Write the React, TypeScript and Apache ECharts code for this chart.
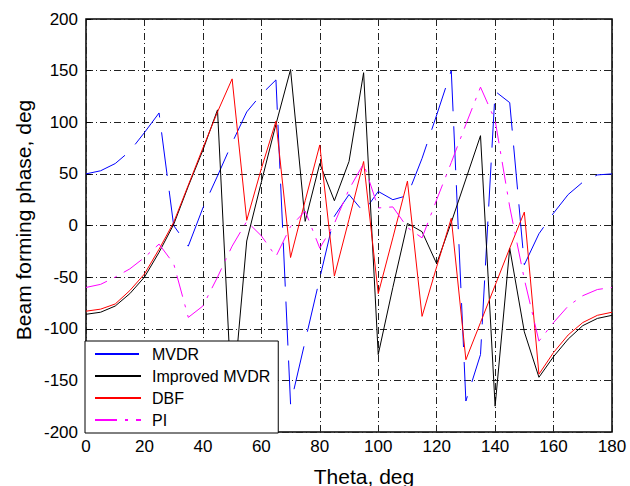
import React, { useEffect, useRef } from "react";
import * as echarts from "echarts";

const theta = [0, 5, 10, 15, 20, 25, 30, 35, 40, 45, 50, 55, 60, 65, 70, 75, 80, 85, 90, 95, 100, 105, 110, 115, 120, 125, 130, 135, 140, 145, 150, 155, 160, 165, 170, 175, 180];

const mvdr = [50, 53, 60, 72, 90, 109, 0, -20, 17, 48, 80, 110, 127, 141, -173, -112, -51, 9, 30, 13, 33, 25, 29, 65, 107, 150, -170, -125, 130, 119, -38, -8, 12, 30, 42, 49, 50];
const improvedMvdr = [-86, -84, -78, -66, -50, -26, 1, 38, 73, 112, -175, -15, 42, 98, 151, 4, 60, 24, 62, 148, -125, -60, 2, -6, -37, 3, 45, 87, -175, -22, -103, -147, -127, -110, -97, -90, -87];
const dbf = [-83, -81, -76, -63, -47, -23, 3, 39, 75, 110, 142, 5, 55, 101, -31, 24, 78, -49, 6, 62, -66, -12, 43, -88, -40, 7, -130, -94, -58, -22, 13, -144, -123, -106, -94, -87, -84];
const pi = [-60, -57, -50, -42, -31, -18, -37, -89, -78, -50, -20, 4, -10, -30, -1, 14, -22, 2, 35, 60, 17, 18, -2, -12, 25, 61, 98, 134, 102, 18, -52, -112, -94, -78, -68, -62, -60];

const seriesNames = ["MVDR", "Improved MVDR", "DBF", "PI"];
const xTitle = "Theta, deg";
const yTitle = "Beam forming phase, deg";

const FONT = "'Liberation Sans', Arial, Helvetica, sans-serif";

export default function App() {
  const ref = useRef<HTMLDivElement>(null);
  useEffect(() => {
    if (!ref.current) return;
    const chart = echarts.init(ref.current, undefined, { renderer: "svg" });
    const pairs = (vals: number[]) => theta.map((t, i) => [t, vals[i]]);
    const mk = (name: string, vals: number[], color: string, type: any) => ({
      name,
      type: "line",
      data: pairs(vals),
      showSymbol: false,
      symbol: "none",
      lineStyle: { color, width: 1, type },
      itemStyle: { color },
      z: 2,
    });
    chart.setOption({
      animation: false,
      backgroundColor: "#fff",
      grid: {
        left: 86,
        right: 18,
        top: 19,
        bottom: 54,
        show: true,
        borderColor: "#000",
        borderWidth: 1.5,
        backgroundColor: "transparent",
      },
      xAxis: {
        type: "value",
        min: 0,
        max: 180,
        interval: 20,
        axisLine: { show: false },
        axisTick: { show: true, inside: true, length: 5, lineStyle: { color: "#000" } },
        axisLabel: { color: "#000", fontSize: 17, fontFamily: FONT, margin: 6 },
        splitLine: { show: true, lineStyle: { color: "#222", width: 1, type: [7, 3, 1, 3] } },
      },
      yAxis: {
        type: "value",
        min: -200,
        max: 200,
        interval: 50,
        axisLine: { show: false },
        axisTick: { show: true, inside: true, length: 5, lineStyle: { color: "#000" } },
        axisLabel: { color: "#000", fontSize: 17, fontFamily: FONT, margin: 8 },
        splitLine: { show: true, lineStyle: { color: "#222", width: 1, type: [7, 3, 1, 3] } },
      },
      legend: {
        orient: "vertical",
        left: 85,
        top: 341,
        backgroundColor: "#fff",
        borderColor: "#000",
        borderWidth: 1,
        borderRadius: 0,
        padding: [5, 8, 5, 9],
        itemGap: 6,
        itemWidth: 46,
        itemHeight: 14,
        align: "left",
        itemStyle: { opacity: 0 },
        textStyle: { color: "#000", fontSize: 16, fontFamily: FONT, padding: [0, 0, 0, 6] },
        data: seriesNames,
        z: 10,
      },
      graphic: [
        {
          type: "text",
          x: 364,
          y: 476,
          style: { text: xTitle, fill: "#000", fontSize: 21, fontFamily: FONT, textAlign: "center", textVerticalAlign: "middle" },
        },
        {
          type: "text",
          x: 23,
          y: 220,
          rotation: Math.PI / 2,
          style: { text: yTitle, fill: "#000", fontSize: 21, fontFamily: FONT, textAlign: "center", textVerticalAlign: "middle" },
        },
      ],
      series: [
        mk(seriesNames[0], mvdr, "#0000ff", [44, 15]),
        mk(seriesNames[1], improvedMvdr, "#000000", "solid"),
        mk(seriesNames[2], dbf, "#ff0000", "solid"),
        mk(seriesNames[3], pi, "#ff00ff", [22, 8, 3, 8]),
      ],
    });
    return () => chart.dispose();
  }, []);
  return <div ref={ref} style={{ position: "fixed", left: 0, top: 0, width: 630, height: 486 }} />;
}
